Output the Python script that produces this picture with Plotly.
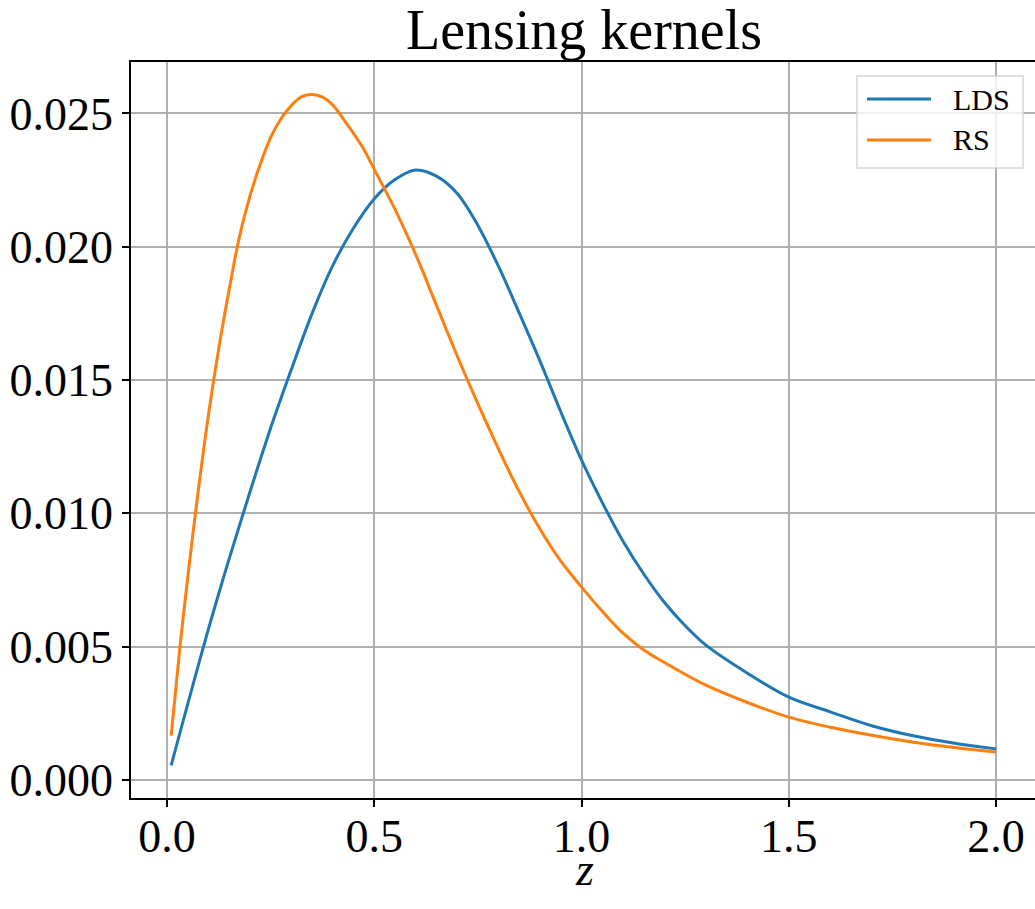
import plotly.graph_objects as go

# ---- data ----
z_lds = [0.01, 0.1, 0.15, 0.2, 0.25, 0.3, 0.35, 0.4, 0.45, 0.5, 0.55, 0.6,
         0.65, 0.7, 0.75, 0.8, 0.85, 0.9, 0.95, 1.0, 1.05, 1.1, 1.15, 1.2,
         1.25, 1.3, 1.4, 1.5, 1.6, 1.7, 1.8, 1.9, 2.0]
k_lds = [0.00054, 0.00566, 0.0083, 0.0108, 0.0132, 0.0154, 0.0175, 0.0193,
         0.0207, 0.0218, 0.02252, 0.02288, 0.02265, 0.0220, 0.0208, 0.01925,
         0.0175, 0.0157, 0.0138, 0.01199, 0.0104, 0.00895, 0.00772, 0.00665,
         0.00578, 0.00505, 0.0040, 0.0031, 0.00255, 0.00203, 0.00165, 0.00137, 0.00116]

z_rs = [0.01, 0.03, 0.05, 0.075, 0.1, 0.125, 0.15, 0.175, 0.2, 0.225, 0.25,
        0.275, 0.3, 0.325, 0.35, 0.375, 0.4, 0.425, 0.45, 0.475, 0.5, 0.55,
        0.6, 0.65, 0.7, 0.75, 0.8, 0.85, 0.9, 0.95, 1.0, 1.05, 1.1, 1.15, 1.2,
        1.3, 1.4, 1.5, 1.6, 1.7, 1.8, 1.9, 2.0]
k_rs = [0.00166, 0.0048, 0.0076, 0.0108, 0.0137, 0.0162, 0.0184, 0.0204,
        0.0219, 0.0231, 0.0241, 0.0248, 0.0253, 0.02563, 0.02571, 0.02561,
        0.02531, 0.0248, 0.02425, 0.02365, 0.0229, 0.0214, 0.0197, 0.0178,
        0.0159, 0.0141, 0.0124, 0.0108, 0.0094, 0.0082, 0.00723, 0.00632,
        0.0055, 0.00487, 0.0044, 0.00355, 0.0029, 0.00235, 0.00197, 0.00167,
        0.00141, 0.00121, 0.00104]

series_names = ["LDS", "RS"]
series_colors = ["#1f77b4", "#ff7f0e"]

x_ticks = [0.0, 0.5, 1.0, 1.5, 2.0]
x_ticklabels = ["0.0", "0.5", "1.0", "1.5", "2.0"]
y_ticks = [0.0, 0.005, 0.010, 0.015, 0.020, 0.025]
y_ticklabels = ["0.000", "0.005", "0.010", "0.015", "0.020", "0.025"]

FONT = "Liberation Serif"

fig = go.Figure()
for zz, kk, name, col in zip([z_lds, z_rs], [k_lds, k_rs], series_names, series_colors):
    fig.add_trace(go.Scatter(x=zz, y=kk, mode="lines", name=name,
                             line=dict(color=col, width=3, shape="spline", smoothing=1.0),
                             showlegend=False))

W, H = 1035, 909
L, R, T, B = 131, 0, 62, 111
pw, ph = W - L - R, H - T - B

def px2paper_x(px):
    return (px - L) / pw

def px2paper_y(py):
    return (H - B - py) / ph

# manual legend (matplotlib style)
shapes = [dict(type="rect", xref="paper", yref="paper",
               x0=px2paper_x(857), x1=px2paper_x(1023),
               y0=px2paper_y(168), y1=px2paper_y(76),
               fillcolor="rgba(255,255,255,0.8)",
               line=dict(color="rgba(204,204,204,0.8)", width=1.5), layer="above")]
annotations = []
for i, (name, col) in enumerate(zip(series_names, series_colors)):
    yy = px2paper_y(99 + 41 * i)
    shapes.append(dict(type="line", xref="paper", yref="paper",
                       x0=px2paper_x(867), x1=px2paper_x(931), y0=yy, y1=yy,
                       line=dict(color=col, width=3), layer="above"))
    annotations.append(dict(xref="paper", yref="paper", x=px2paper_x(951), y=yy,
                            xanchor="left", yanchor="middle", text=name, showarrow=False,
                            font=dict(family=FONT, size=30, color="black")))

# x-axis label
annotations.append(dict(xref="paper", yref="paper", x=px2paper_x(584), y=px2paper_y(869),
                        xanchor="center", yanchor="middle", text="<i>z</i>", showarrow=False,
                        font=dict(family=FONT, size=46, color="black")))

fig.update_layout(
    width=W, height=H,
    margin=dict(l=L, r=R, t=T, b=B, pad=0),
    paper_bgcolor="white", plot_bgcolor="white",
    title=dict(text="Lensing kernels", x=584 / W, xanchor="center",
               y=1 - 10 / H, yanchor="top", yref="container",
               font=dict(family=FONT, size=56, color="black")),
    shapes=shapes, annotations=annotations,
    showlegend=False,
)
fig.update_xaxes(range=[-0.0869, 2.0938], tickvals=x_ticks, ticktext=x_ticklabels,
                 showgrid=True, gridcolor="#b0b0b0", gridwidth=1.6,
                 showline=True, linecolor="black", linewidth=1.6, mirror=True,
                 ticks="outside", ticklen=7, tickwidth=1.6, tickcolor="black",
                 ticklabelstandoff=-10,
                 tickfont=dict(family=FONT, size=46, color="black"),
                 zeroline=False)
fig.update_yaxes(range=[-0.000683, 0.02693], tickvals=y_ticks, ticktext=y_ticklabels,
                 showgrid=True, gridcolor="#b0b0b0", gridwidth=1.6,
                 showline=True, linecolor="black", linewidth=1.6, mirror=False,
                 ticks="outside", ticklen=7, tickwidth=1.6, tickcolor="black",
                 tickfont=dict(family=FONT, size=46, color="black"),
                 zeroline=False)

fig.write_html("out.html", config={"displayModeBar": False},
               post_script="document.body.style.margin='0';document.body.style.overflow='hidden';")
